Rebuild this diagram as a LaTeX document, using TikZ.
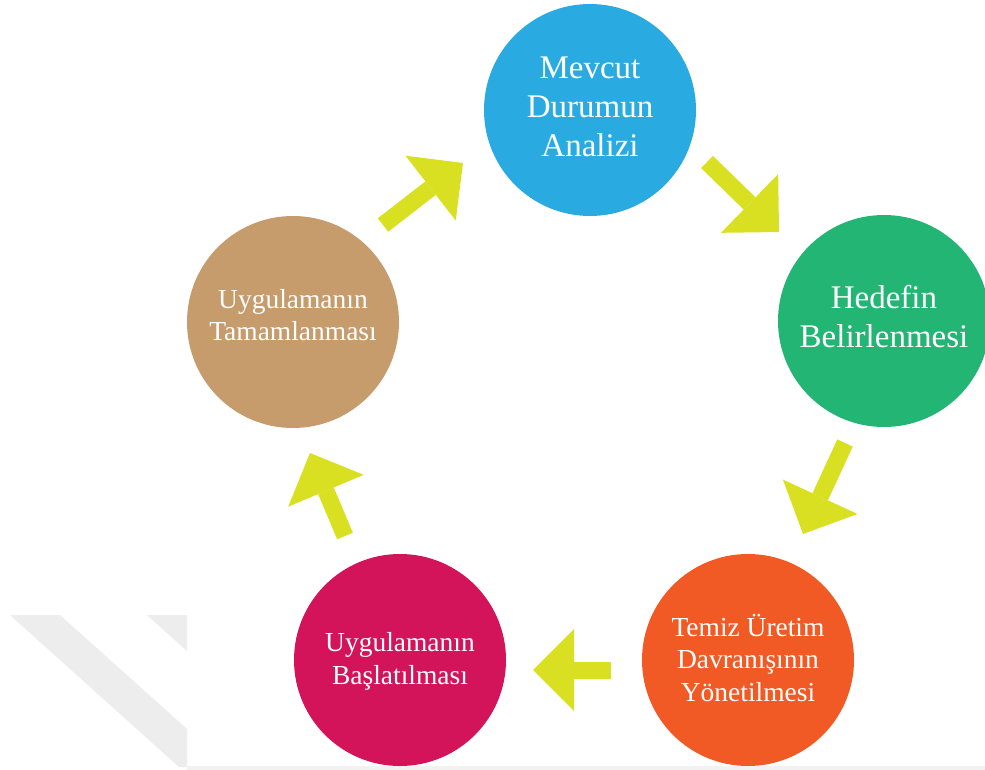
\documentclass[tikz,border=0pt]{standalone}
\usepackage{fontspec}
\setmainfont{Liberation Serif}
\usetikzlibrary{arrows.meta}

\definecolor{cblue}{HTML}{29ABE2}
\definecolor{cgreen}{HTML}{22B573}
\definecolor{corange}{HTML}{F15A24}
\definecolor{ccrimson}{HTML}{D4145A}
\definecolor{ctan}{HTML}{C69C6D}
\definecolor{carrow}{HTML}{D9E021}
\definecolor{cmark}{HTML}{EDEDED}

\tikzset{
  stage/.style={circle, fill=#1, draw=none, minimum size=159pt, inner sep=0pt},
  bigtxt/.style={text=white, align=center, inner sep=0pt,
    font=\fontsize{24.75pt}{29.25pt}\selectfont},
  smalltxt/.style={text=white, align=center, inner sep=0pt,
    font=\fontsize{20.6pt}{24.4pt}\selectfont},
  flow/.style={draw=carrow, line width=12.75pt, line cap=butt,
    -{Triangle[width=61.5pt, length=30.75pt, line width=0pt]}}
}

\begin{document}
\begin{tikzpicture}[x=0.75pt, y=-0.75pt]
  % canvas
  \fill[white] (0,0) rectangle (985,770);
  \useasboundingbox (0,0) rectangle (985,770);

  % faint grey bands in the lower left corner
  \fill[cmark] (10,615) -- (60,615) -- (187,729) -- (187,767) -- (179,767) -- cycle;
  \fill[cmark] (147,615) -- (187,615) -- (187,651) -- cycle;
  \fill[gray!10] (187,766) rectangle (985,770);

  % stages
  \node[stage=cblue]    (s1) at (590,110) {};
  \node[stage=cgreen]   (s2) at (884,321) {};
  \node[stage=corange]  (s3) at (748,660) {};
  \node[stage=ccrimson] (s4) at (400,660) {};
  \node[stage=ctan]     (s5) at (293,322) {};

  % stage labels
  \node[bigtxt]   (l1) at ([yshift=2.25pt]s1.center) {Mevcut\\Durumun\\Analizi};
  \node[bigtxt]   (l2) at ([yshift=3pt]s2.center) {Hedefin\\Belirlenmesi};
  \node[smalltxt] (l3) at ([yshift=1.5pt]s3.center) {Temiz Üretim\\Davranışının\\Yönetilmesi};
  \node[smalltxt] (l4) at ([yshift=-1pt]s4.center) {Uygulamanın\\Başlatılması};
  \node[smalltxt] (l5) at ([yshift=5pt]s5.center) {Uygulamanın\\Tamamlanması};

  % arrow ends
  \coordinate (t1) at (383,225); \coordinate (h1) at (463,163);
  \coordinate (t2) at (707,162); \coordinate (h2) at (779,232);
  \coordinate (t3) at (845,443); \coordinate (h3) at (803,534);
  \coordinate (t4) at (611,670); \coordinate (h4) at (533,670);
  \coordinate (t5) at (345,536); \coordinate (h5) at (310,453);

  % cycle arrows
  \draw[flow] (t1) -- (h1);
  \draw[flow] (t2) -- (h2);
  \draw[flow] (t3) -- (h3);
  \draw[flow] (t4) -- (h4);
  \draw[flow] (t5) -- (h5);
\end{tikzpicture}
\end{document}
